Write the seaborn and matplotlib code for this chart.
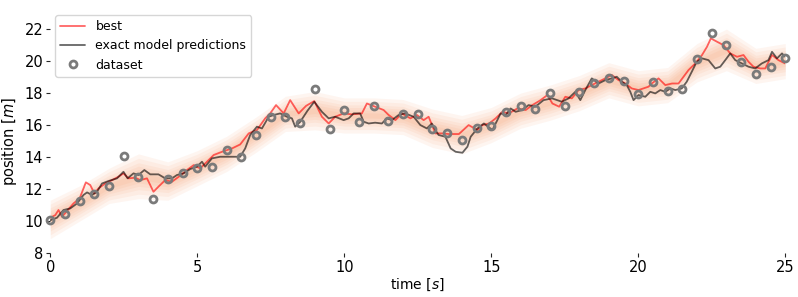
import numpy as np
import pandas as pd
import seaborn as sns
import matplotlib
matplotlib.use('Agg')
import matplotlib.pyplot as plt

# dataset (every 0.5 s)
data_t = np.arange(0, 25.01, 0.5)
data_pos = [10.05, 10.44, 11.27, 11.69, 12.19, 14.06, 12.77, 11.37, 12.6, 13.02,
            13.29, 13.35, 14.44, 14.02, 15.4, 16.48, 16.48, 16.1, 18.23, 15.75,
            16.94, 16.17, 17.21, 16.27, 16.67, 16.67, 15.73, 15.48, 15.06, 15.79,
            15.94, 16.79, 17.19, 17.0, 17.98, 17.21, 18.04, 18.63, 18.96, 18.77,
            17.94, 18.71, 18.15, 18.25, 20.1, 21.73, 21.0, 19.92, 19.19, 19.65,
            20.17]

# best fit line
best_t = [0.0, 0.17, 0.28, 0.40, 0.57, 0.79, 1.0, 1.21, 1.36, 1.50, 1.64, 1.87,
          2.10, 2.32, 2.49, 2.66, 2.89, 3.06, 3.29, 3.51, 3.68, 3.91, 4.14, 4.37,
          4.65, 4.88, 5.10, 5.33, 5.56, 5.84, 6.18, 6.46, 6.75, 7.03, 7.31, 7.48,
          7.68, 7.94, 8.16, 8.45, 8.70, 8.98, 9.24, 9.47, 9.69, 9.98, 10.26, 10.6,
          10.77, 11.05, 11.34, 11.51, 11.74, 11.96, 12.25, 12.47, 12.7, 12.87,
          13.1, 13.32, 13.55, 13.9, 14.23, 14.53, 14.7, 14.93, 15.15, 15.38, 15.6,
          15.89, 16.17, 16.4, 16.68, 16.91, 17.08, 17.31, 17.52, 17.74, 17.97,
          18.2, 18.42, 18.65, 18.88, 19.1, 19.33, 19.56, 19.78, 20.01, 20.35,
          20.46, 20.69, 20.92, 21.15, 21.37, 21.54, 21.71, 21.94, 22.17, 22.34,
          22.47, 22.68, 22.9, 23.13, 23.36, 23.58, 23.75, 23.92, 24.15, 24.32,
          24.55, 24.77, 25.0]
best_pos = [10.21, 10.37, 10.69, 10.27, 10.63, 11.1, 11.42, 12.42, 12.25, 11.73,
            12.04, 12.35, 12.56, 12.77, 12.98, 12.67, 12.71, 12.56, 12.67, 11.83,
            12.15, 12.56, 12.46, 12.77, 13.19, 13.5, 13.29, 13.71, 14.13, 14.33,
            14.54, 14.79, 15.48, 15.69, 16.42, 16.73, 17.25, 16.73, 17.56, 16.73,
            17.2, 17.5, 16.52, 16.1, 16.52, 16.73, 16.67, 16.73, 17.35, 17.15,
            16.94, 16.63, 16.31, 16.73, 16.42, 16.63, 16.31, 16.52, 15.48, 15.48,
            15.44, 15.44, 16.0, 15.69, 16.0, 16.1, 16.42, 16.83, 16.73, 17.04,
            16.94, 17.25, 17.56, 17.88, 17.35, 17.15, 17.77, 17.67, 18.19, 18.29,
            18.5, 18.71, 18.92, 19.13, 18.81, 18.6, 18.29, 18.19, 18.4, 18.6,
            18.92, 18.5, 18.6, 18.6, 19.02, 19.44, 19.85, 20.38, 20.9, 21.42,
            21.21, 21.0, 20.48, 20.27, 20.38, 19.96, 19.65, 19.54, 19.54, 20.38,
            20.06, 19.85]

# exact model predictions
exact_t = [0.0, 0.23, 0.45, 0.68, 0.91, 1.13, 1.25, 1.42, 1.59, 1.76, 1.98,
           2.27, 2.49, 2.63, 2.83, 3.0, 3.2, 3.40, 3.68, 3.91, 4.14, 4.31, 4.54,
           4.76, 4.99, 5.16, 5.27, 5.5, 5.78, 6.18, 6.46, 6.63, 6.8, 7.03, 7.2,
           7.43, 7.6, 7.82, 8.05, 8.22, 8.33, 8.5, 8.75, 8.98, 9.24, 9.47, 9.69,
           9.98, 10.15, 10.32, 10.54, 10.66, 10.83, 11.05, 11.28, 11.45, 11.62,
           11.85, 12.07, 12.36, 12.59, 12.81, 12.98, 13.1, 13.21, 13.44, 13.62,
           13.79, 14.02, 14.19, 14.3, 14.53, 14.75, 15.04, 15.15, 15.32, 15.49,
           15.66, 15.83, 16.05, 16.27, 16.5, 16.78, 17.07, 17.4, 17.63, 17.86,
           18.03, 18.2, 18.42, 18.65, 18.88, 19.1, 19.27, 19.44, 19.61, 19.73,
           19.84, 20.01, 20.24, 20.41, 20.58, 20.75, 20.92, 21.09, 21.26, 21.48,
           21.65, 21.82, 21.99, 22.17, 22.39, 22.62, 22.79, 22.96, 23.13, 23.3,
           23.53, 23.75, 23.98, 24.2, 24.43, 24.55, 24.72, 24.89, 25.0]
exact_pos = [10.05, 10.21, 10.69, 10.79, 11.1, 11.63, 11.79, 11.63, 11.83, 12.35,
             12.5, 12.67, 13.08, 12.67, 12.98, 12.88, 13.19, 12.92, 12.92, 12.67,
             12.67, 12.88, 12.98, 13.25, 13.4, 13.71, 13.4, 13.92, 14.02, 14.02,
             14.02, 14.54, 15.38, 15.9, 15.79, 16.52, 16.63, 16.73, 16.52, 16.42,
             15.9, 16.2, 16.9, 17.46, 16.83, 16.42, 16.52, 16.31, 16.42, 16.73,
             16.73, 16.21, 16.1, 16.15, 16.1, 16.42, 16.31, 16.63, 16.73, 16.52,
             16.0, 15.79, 16.1, 15.69, 15.38, 15.27, 14.54, 14.33, 14.27, 14.65,
             15.27, 15.79, 16.1, 15.69, 16.1, 16.73, 16.63, 17.04, 16.83, 16.94,
             17.25, 17.15, 17.56, 17.67, 17.46, 17.67, 18.08, 17.56, 18.19, 18.92,
             18.6, 18.81, 18.92, 19.02, 18.71, 18.5, 18.08, 17.56, 17.88, 17.77,
             18.08, 17.98, 18.19, 18.08, 18.29, 18.19, 18.29, 18.71, 19.33, 19.96,
             20.17, 20.06, 19.54, 19.65, 20.06, 20.48, 20.06, 19.85, 19.65, 19.54,
             19.85, 20.06, 20.58, 20.17, 20.48, 20.27]

# spread of the sampled model runs
band_t = np.arange(0, 26, 1)
band_mid = [10.1, 11.1, 12.2, 12.8, 12.5, 13.3, 14.2, 15.4, 16.7, 16.9, 16.6,
            16.6, 16.5, 15.8, 15.4, 16.0, 16.9, 17.4, 18.0, 18.8, 18.3, 18.5,
            19.9, 20.7, 19.7, 20.0]
band_half = [1.2, 1.1, 1.1, 1.4, 1.2, 1.1, 1.1, 1.1, 1.1, 1.2, 1.1, 1.1, 1.1,
             1.2, 1.2, 1.1, 1.1, 1.1, 1.1, 1.1, 1.1, 1.1, 1.2, 1.3, 1.1, 1.1]

sns.set_style('ticks')
plt.rcParams['text.color'] = 'black'
plt.rcParams['axes.labelcolor'] = 'black'
plt.rcParams['xtick.labelcolor'] = 'black'
plt.rcParams['ytick.labelcolor'] = 'black'

fig = plt.figure(figsize=(7.98, 2.97), dpi=100)
ax = fig.add_axes([0.063, 0.148, 0.921, 0.754])

mid = np.array(band_mid)
half = np.array(band_half)
for k in [1.0, 0.8, 0.6, 0.45, 0.3, 0.15]:
    ax.fill_between(band_t, mid - k * half, mid + k * half,
                    color='#f8864c', alpha=0.08, lw=0)

best = pd.DataFrame({'t': best_t, 'pos': best_pos})
exact = pd.DataFrame({'t': exact_t, 'pos': exact_pos})
sns.lineplot(data=best, x='t', y='pos', color='red', alpha=0.6, lw=1.3,
             label='best', ax=ax)
sns.lineplot(data=exact, x='t', y='pos', color='k', alpha=0.6, lw=1.3,
             label='exact model predictions', ax=ax)
ax.plot(data_t, data_pos, 'o', mfc='none', mec='#7a7a7a', mew=2, ms=5,
        label='dataset', clip_on=False)

ax.set_xlim(0, 25)
ax.set_ylim(8, 22)
ax.set_yticks([8, 10, 12, 14, 16, 18, 20, 22])
ax.set_xticks([0, 5, 10, 15, 20, 25])
ax.tick_params(labelsize=10.5, length=3, pad=2)
ax.set_xlabel('time [$s$]', fontsize=10, labelpad=1)
ax.set_ylabel('position [$m$]', fontsize=10.5, labelpad=4)
sns.despine(ax=ax, left=True, bottom=True)
ax.legend(loc='upper left', fontsize=9, bbox_to_anchor=(0.007, 1.0625),
          borderaxespad=0)

fig.savefig('out.png', dpi=100)
